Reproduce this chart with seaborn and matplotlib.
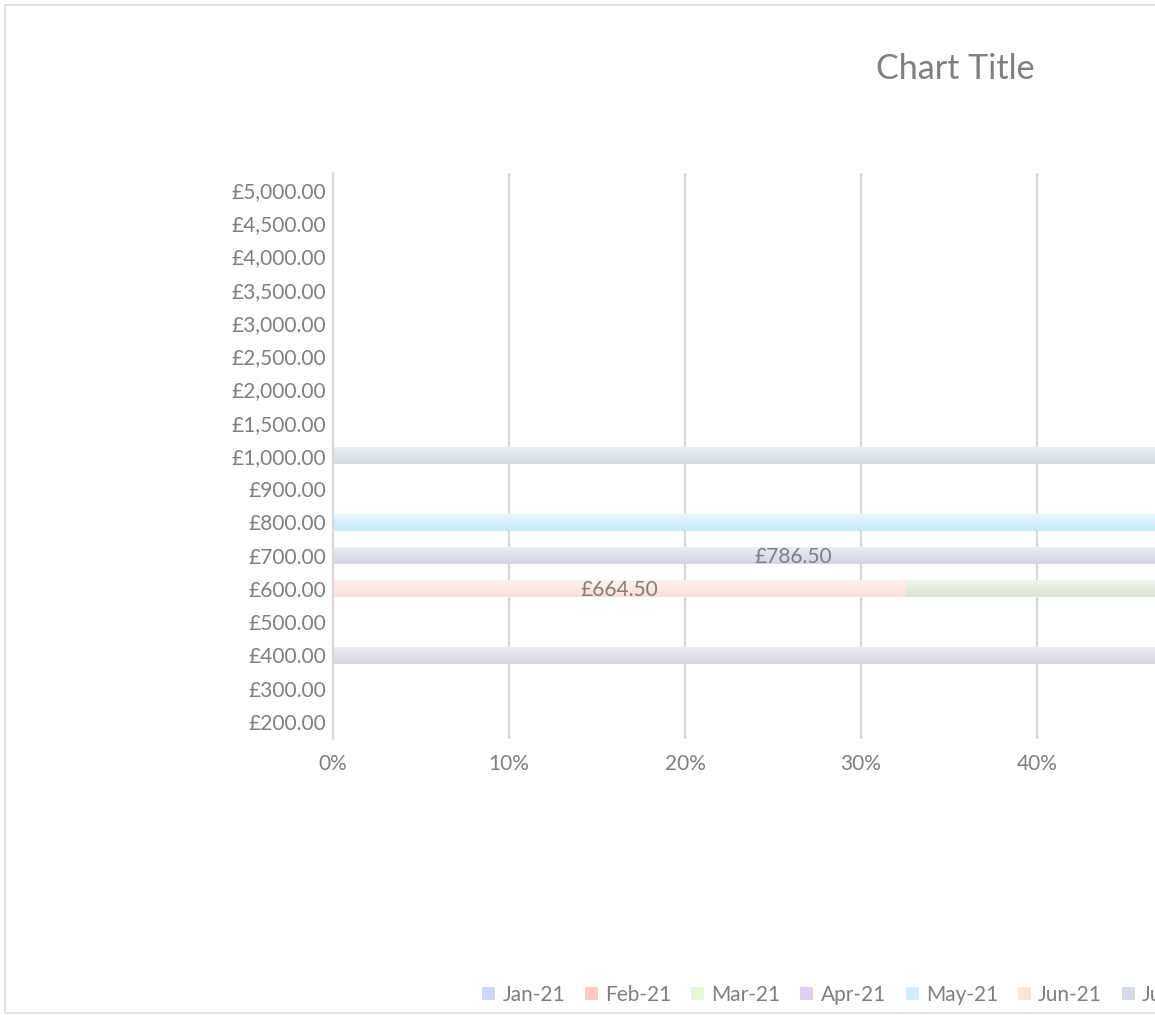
import matplotlib
matplotlib.use("Agg")
import matplotlib.pyplot as plt
from matplotlib.patches import Patch, Rectangle
from matplotlib.colors import to_rgb
import seaborn as sns
import pandas as pd
import numpy as np

# Price bands shown on the y axis (top to bottom)
bands = ['£5,000.00', '£4,500.00', '£4,000.00', '£3,500.00', '£3,000.00',
         '£2,500.00', '£2,000.00', '£1,500.00', '£1,000.00', '£900.00',
         '£800.00', '£700.00', '£600.00', '£500.00', '£400.00', '£300.00',
         '£200.00']

months = ['Jan-21', 'Feb-21', 'Mar-21', 'Apr-21', 'May-21', 'Jun-21',
          'Jul-21', 'Aug-21', 'Sep-21', 'Oct-21', 'Nov-21', 'Dec-21']

colors = ['#c9d8f8', '#fdcbc6', '#e4f6d3', '#ddd1ef', '#cdeefd', '#fde4da',
          '#d6d9e6', '#e9dada', '#e0e8d5', '#dbd9e4', '#d3e0e9', '#ece2d8']

# amounts per band for each month (only non-zero entries listed)
may_21 = {'£800.00': 812.00}
jun_21 = {'£600.00': 664.50}
jul_21 = {'£700.00': 786.50}
aug_21 = {'£700.00': 717.00}
sep_21 = {'£600.00': 1380.00}
oct_21 = {'£400.00': 412.00}
nov_21 = {'£1,000.00': 1006.00}

series = {'May-21': may_21, 'Jun-21': jun_21, 'Jul-21': jul_21,
          'Aug-21': aug_21, 'Sep-21': sep_21, 'Oct-21': oct_21,
          'Nov-21': nov_21}

df = pd.DataFrame(0.0, index=bands, columns=months)
for m, vals in series.items():
    for b, v in vals.items():
        df.loc[b, m] = v

totals = df.sum(axis=1).replace(0, np.nan)
share = df.div(totals, axis=0).fillna(0)
cum = share.cumsum(axis=1)
left = cum - share

sns.set_theme(style='white')
plt.rcParams['font.family'] = ['Lato', 'DejaVu Sans']
grey = '#7f7f7f'
fs = 15

fig = plt.figure(figsize=(11.55, 10.15), dpi=100)
ax = fig.add_axes([333 / 1155, 0.2723, 1760 / 1155, 0.5569])

# stacked 100% bars: draw cumulative bars from the last month backwards
for i in range(len(months) - 1, -1, -1):
    m = months[i]
    d = pd.DataFrame({'band': bands, 'cum': cum[m].values})
    sns.barplot(data=d, x='cum', y='band', order=bands, orient='h',
                color=colors[i], saturation=1, width=0.5, linewidth=0,
                ax=ax)

ax.set_xlim(0, 1)
ax.set_ylim(len(bands) - 0.5, -0.5)

# soft vertical gradient on each bar, like the Excel fill
for p in list(ax.patches):
    w = p.get_width()
    if w <= 0:
        continue
    base = np.array(to_rgb(p.get_facecolor()))
    top = base + (1 - base) * 0.5
    bot = base * 0.985
    t = np.linspace(0, 1, 32)[:, None]
    grad = (top * (1 - t) + bot * t)[:, None, :]
    x0, y0 = p.get_x(), p.get_y()
    h = p.get_height()
    ax.imshow(grad, extent=[x0, x0 + w, y0 + h, y0], aspect='auto',
              interpolation='bilinear', zorder=p.get_zorder())
    p.set_visible(False)

ax.set_xlim(0, 1)
ax.set_ylim(len(bands) - 0.5, -0.5)

# data labels at segment centres
for m in months:
    for j, b in enumerate(bands):
        v = df.loc[b, m]
        if v > 0:
            ax.text(left.loc[b, m] + share.loc[b, m] / 2, j + 0.04,
                    f'£{v:,.2f}', ha='center', va='center', fontsize=fs,
                    color=grey, clip_on=True, zorder=5)

ax.set_xticks(np.arange(0, 1.01, 0.1))
ax.set_xticklabels([f'{int(round(t * 100))}%' for t in np.arange(0, 1.01, 0.1)])
ax.xaxis.grid(True, color='#d9d9d9', linewidth=1.6)
ax.set_axisbelow(True)
for s in ['top', 'right', 'bottom']:
    ax.spines[s].set_visible(False)
ax.spines['left'].set_color('#d9d9d9')
ax.spines['left'].set_linewidth(1.6)
ax.tick_params(axis='y', length=0, pad=5, labelsize=fs, labelcolor=grey)
ax.tick_params(axis='x', length=0, pad=11, labelsize=fs, labelcolor=grey)
ax.set_xlabel('')
ax.set_ylabel('')

fig.text(955 / 1155, 1 - 69 / 1015, 'Chart Title', ha='center', va='center',
         fontsize=24.5, color=grey)

# chart area border
fig.patches.append(Rectangle((5 / 1155, 2 / 1015), 2.0, 1 - 7 / 1015,
                             transform=fig.transFigure, fill=False,
                             edgecolor='#d9d9d9', linewidth=1.2))

handles = [Patch(facecolor=c, edgecolor='none') for c in colors]
fig.legend(handles, months, ncol=12, loc='center left',
           bbox_to_anchor=(476 / 1155, 1 - 995 / 1015), frameon=False,
           handlelength=0.63, handleheight=0.63, handletextpad=0.34,
           columnspacing=0.95, fontsize=fs, labelcolor=grey,
           borderaxespad=0, borderpad=0.3)

fig.savefig('out.png', dpi=100)
